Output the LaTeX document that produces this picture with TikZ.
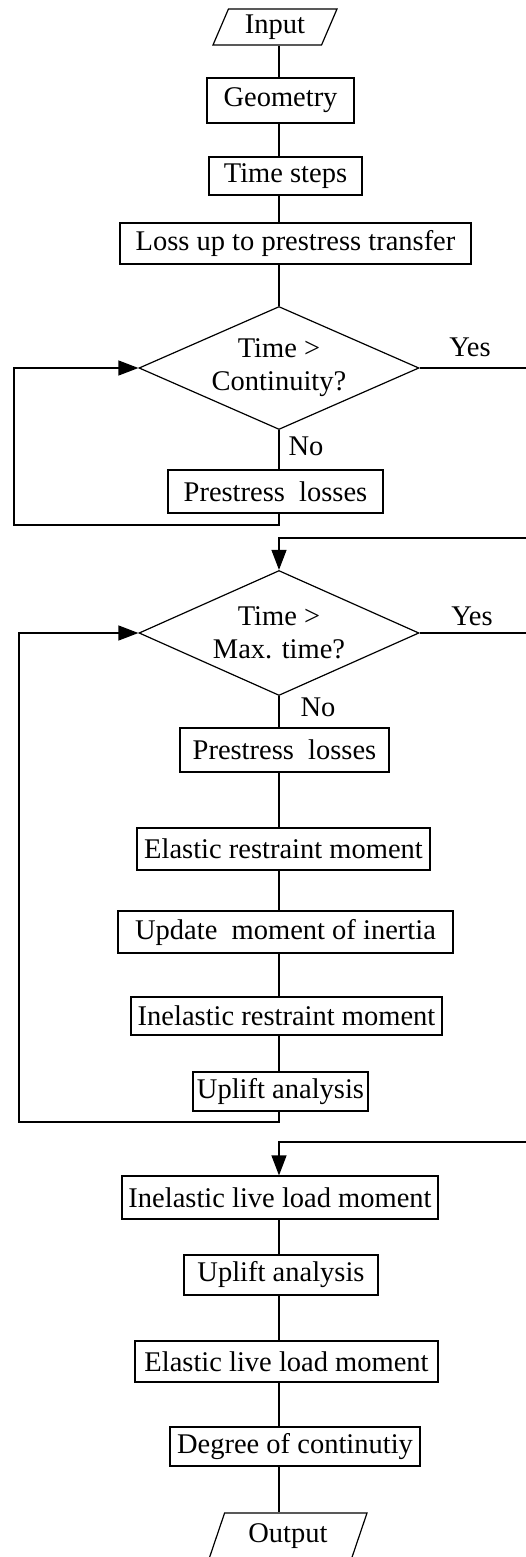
\documentclass[tikz,border=0pt]{standalone}
\usepackage{fontspec}
\setmainfont{Liberation Serif}
\usetikzlibrary{arrows.meta, shapes.geometric}

\begin{document}
\begin{tikzpicture}[x=1pt, y=-1pt, line width=1.2pt,
  font=\fontsize{28.5}{33}\selectfont,
  procbox/.style={draw, rectangle, inner sep=0pt},
  iobox/.style={draw, trapezium, trapezium left angle=58, trapezium right angle=122,
    trapezium stretches body, inner sep=0pt},
  decbox/.style={draw, diamond, aspect=2.3, inner sep=0pt, minimum width=280pt, align=center},
  lbl/.style={inner sep=0pt},
  flow/.style={-{Triangle[length=20pt, width=15pt]}}]
  \useasboundingbox (0,0) rectangle (526,1557);

  % input and set-up
  \node[iobox, minimum width=124pt, minimum height=36pt] (inp) at (275,27) {Input};
  \node[procbox, minimum width=147pt, minimum height=45pt] (geom) at (280.5,100.5) {Geometry};
  \node[procbox, minimum width=153pt, minimum height=38pt] (steps) at (285.5,176) {Time steps};
  \node[procbox, minimum width=351pt, minimum height=41pt] (loss) at (295.5,243.5) {Loss up to prestress transfer};

  % first loop
  \node[decbox, minimum height=123pt] (dec1) at (279,368) {Time >\\Continuity?};
  \node[procbox, minimum width=215pt, minimum height=43pt] (pl1) at (275.5,491.5) {Prestress~ losses};
  \node[lbl] (yes1) at (470,347) {Yes};
  \node[lbl] (no1) at (306,446) {No};

  % second loop
  \node[decbox, minimum height=125pt] (dec2) at (279,633) {Time >\\Max. time?};
  \node[procbox, minimum width=209pt, minimum height=44pt] (pl2) at (284.5,750) {Prestress~ losses};
  \node[procbox, minimum width=293pt, minimum height=42pt] (erm) at (283.5,849) {Elastic restraint moment};
  \node[procbox, minimum width=335pt, minimum height=42pt] (upd) at (285.5,932) {Update~ moment of inertia};
  \node[procbox, minimum width=311pt, minimum height=38pt] (irm) at (286.5,1016) {Inelastic restraint moment};
  \node[procbox, minimum width=175pt, minimum height=39pt] (up1) at (280.5,1091.5) {Uplift analysis};
  \node[lbl] (yes2) at (472,616) {Yes};
  \node[lbl] (no2) at (318,707) {No};

  % live load and output
  \node[procbox, minimum width=316pt, minimum height=43pt] (ill) at (280,1197.5) {Inelastic live load moment};
  \node[procbox, minimum width=194pt, minimum height=40pt] (up2) at (281,1275) {Uplift analysis};
  \node[procbox, minimum width=303pt, minimum height=41pt] (elm) at (286.5,1361.5) {Elastic live load moment};
  \node[procbox, minimum width=250pt, minimum height=39pt] (deg) at (295,1446.5) {Degree of continutiy};
  \node[iobox, minimum width=158pt, minimum height=46pt] (out) at (288,1536) {Output};

  % connectors
  \coordinate (spine) at (279,0);
  \foreach \a/\b in {inp/geom, geom/steps, steps/loss, loss/dec1, dec1/pl1, dec2/pl2,
      pl2/erm, erm/upd, upd/irm, irm/up1, ill/up2, up2/elm, elm/deg, deg/out}
    \draw (\a.south -| spine) -- (\b.north -| spine);

  \coordinate (back1) at (14,525);
  \coordinate (back2) at (19,1122);
  \draw[flow] (pl1.south -| spine) |- (back1) |- (dec1.west);
  \draw[flow] (up1.south -| spine) |- (back2) |- (dec2.west);

  \coordinate (rail1) at (545,538);
  \coordinate (rail2) at (545,1142);
  \draw[flow] (dec1.east) -| (rail1) -| (dec2.north);
  \draw[flow] (dec2.east) -| (rail2) -| (ill.north -| spine);
\end{tikzpicture}
\end{document}
